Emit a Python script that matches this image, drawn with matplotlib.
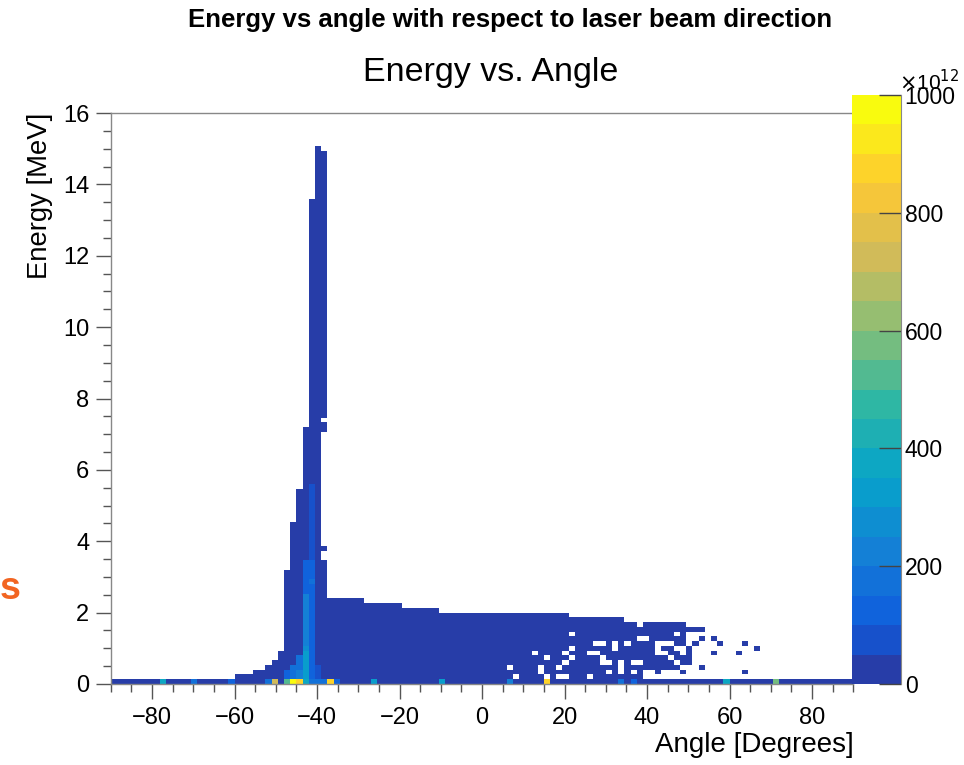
import numpy as np
import matplotlib
matplotlib.use('Agg')
import matplotlib.pyplot as plt
from matplotlib.colors import ListedColormap, BoundaryNorm
from matplotlib.ticker import MultipleLocator

plt.rcParams['font.family'] = ['Liberation Sans', 'DejaVu Sans']

# 2D histogram binning (120 x 120)
angle_range = (-90, 90)
energy_range = (0, 16)
n_angle = 120
n_energy = 120

# filled energy bins (counted from the bottom) in every angle bin
column_tops = ([1] * 20
               + [2, 2, 2, 3, 3, 4, 5, 7, 24, 34, 41, 54, 102, 113, 112]
               + [18] * 6 + [17] * 6 + [16] * 6 + [15] * 21
               + [14] * 9 + [13] * 10 + [12] * 3
               + [1] * 24)

# empty stretches inside a column: (angle bin, first energy bin, last energy bin)
empty_runs = [(34, 26, 27), (34, 29, 52), (34, 55, 55)]

# single empty cells (angle bin, energy bin)
holes = [(64, 3), (65, 1), (68, 6), (69, 2), (69, 3), (70, 1), (70, 5),
         (72, 1), (72, 3), (73, 1), (73, 4), (73, 6), (74, 5), (74, 7),
         (74, 10), (77, 1), (77, 6), (78, 6), (78, 8), (79, 8), (79, 4),
         (79, 5), (80, 2), (80, 4), (81, 7), (81, 8), (82, 2), (82, 3),
         (82, 4), (83, 8), (84, 2), (84, 4), (85, 4), (85, 9), (86, 9),
         (85, 12), (88, 6), (88, 7), (88, 8), (89, 8), (90, 8), (89, 6),
         (86, 1), (87, 1), (88, 1), (89, 1), (90, 1), (91, 1), (92, 1),
         (86, 2), (87, 2), (89, 2), (90, 2), (91, 2), (92, 3), (91, 4),
         (93, 1), (93, 2), (93, 3), (93, 8), (93, 9), (93, 10),
         (94, 1), (94, 2), (94, 3), (94, 4), (94, 5), (94, 6), (94, 7), (94, 9), (94, 10),
         (95, 1), (95, 2), (95, 4), (95, 5), (95, 6), (95, 7), (95, 8), (95, 10),
         (92, 6), (92, 7), (91, 7), (90, 5), (91, 10)]

# isolated filled cells outside the main body
extra_cells = [(97, 9), (98, 8), (97, 6), (102, 8), (104, 7), (101, 6), (102, 2)]

# cells above the lowest colour band: (angle bin, energy bin, value x1e12)
hot_cells = [(8, 0, 350), (13, 0, 180), (19, 0, 130), (25, 0, 160), (26, 0, 720),
             (28, 0, 520), (29, 0, 980), (30, 0, 870), (31, 0, 380), (32, 0, 170),
             (33, 0, 170), (34, 0, 150), (35, 0, 860), (36, 0, 140), (42, 0, 300),
             (53, 0, 330), (64, 0, 230), (70, 0, 880), (82, 0, 150), (84, 0, 130),
             (99, 0, 360), (107, 0, 560),
             (28, 1, 120), (28, 2, 120), (29, 1, 150), (29, 2, 150), (29, 3, 150),
             (30, 1, 200), (30, 2, 200), (30, 3, 180), (30, 4, 180), (30, 5, 160),
             (31, 1, 320), (31, 2, 320), (31, 3, 320), (31, 4, 300), (31, 5, 300),
             (31, 6, 300), (31, 7, 280), (32, 1, 140), (32, 2, 140), (32, 3, 140),
             (32, 4, 140), (32, 5, 140), (32, 6, 140), (32, 7, 140), (33, 1, 90),
             (33, 2, 90), (33, 3, 90),
             (31, 8, 240), (31, 9, 240), (31, 10, 240), (31, 11, 240), (31, 12, 240),
             (31, 13, 240), (31, 14, 240), (31, 15, 240), (31, 16, 240), (31, 17, 240),
             (31, 18, 240), (32, 8, 110), (32, 9, 110), (32, 10, 110), (32, 11, 110),
             (32, 12, 110), (32, 13, 110), (32, 14, 110), (32, 15, 110), (32, 16, 110),
             (32, 17, 110), (32, 18, 110),
             (31, 19, 120), (31, 20, 120), (31, 21, 120), (31, 22, 120), (31, 23, 120),
             (31, 24, 120), (31, 25, 120), (32, 19, 120), (32, 20, 120), (32, 21, 180),
             (32, 22, 120), (32, 23, 120), (32, 24, 120), (32, 25, 120),
             (32, 26, 75), (32, 27, 75), (32, 28, 75), (32, 29, 75), (32, 30, 75),
             (32, 31, 75), (32, 32, 75), (32, 33, 75), (32, 34, 75), (32, 35, 75),
             (32, 36, 75), (32, 37, 75), (32, 38, 75), (32, 39, 75), (32, 40, 75),
             (32, 41, 75)]

fill_value = 10

# ROOT kBird palette
bird_stops = [0.0, 0.125, 0.25, 0.375, 0.5, 0.625, 0.75, 0.875, 1.0]
bird_red = [0.2082, 0.0592, 0.0780, 0.0232, 0.1802, 0.5301, 0.8186, 0.9956, 0.9764]
bird_green = [0.1664, 0.3599, 0.5041, 0.6419, 0.7178, 0.7492, 0.7328, 0.7862, 0.9832]
bird_blue = [0.5293, 0.8684, 0.8385, 0.7914, 0.6425, 0.4662, 0.3499, 0.1968, 0.0539]
n_contours = 20
z_max = 1000


def bird_colors():
    t = np.linspace(0, 1, 255)
    full = np.column_stack([np.interp(t, bird_stops, bird_red),
                            np.interp(t, bird_stops, bird_green),
                            np.interp(t, bird_stops, bird_blue)])
    idx = [min(254, int((j + 0.99) * 255 / n_contours)) for j in range(n_contours)]
    return ListedColormap(full[idx])


def build_hist():
    z = np.zeros((n_energy, n_angle))
    for c, top in enumerate(column_tops):
        z[:top, c] = fill_value
    for c, lo, hi in empty_runs:
        z[lo:hi + 1, c] = 0
    for c, r in holes:
        z[r, c] = 0
    for c, r in extra_cells:
        z[r, c] = fill_value
    for c, r, v in hot_cells:
        z[r, c] = v
    return np.ma.masked_equal(z, 0)


def main():
    fig = plt.figure(figsize=(9.64, 7.65), dpi=100)
    W, H = 964, 765
    ax = fig.add_axes((110.75 / W, 81 / H, 742.5 / W, 571 / H))
    cax = fig.add_axes((852 / W, 81 / H, 48.5 / W, 589 / H))

    x_edges = np.linspace(angle_range[0], angle_range[1], n_angle + 1)
    y_edges = np.linspace(energy_range[0], energy_range[1], n_energy + 1)
    cmap = bird_colors()
    norm = BoundaryNorm(np.linspace(0, z_max, n_contours + 1), cmap.N)
    mesh = ax.pcolormesh(x_edges, y_edges, build_hist(), cmap=cmap, norm=norm,
                         shading='flat', edgecolors='none', antialiased=False)

    ax.set_xlim(*angle_range)
    ax.set_ylim(*energy_range)
    ax.xaxis.set_major_locator(MultipleLocator(20))
    ax.xaxis.set_minor_locator(MultipleLocator(5))
    ax.yaxis.set_major_locator(MultipleLocator(2))
    ax.yaxis.set_minor_locator(MultipleLocator(0.5))
    ax.tick_params(which='major', direction='out', length=10.5, width=1,
                   color='#555555', labelsize=17, pad=5)
    ax.tick_params(which='minor', direction='out', length=5.5, width=1, color='#555555')
    ax.tick_params(axis='x', which='major', pad=6)
    for side in ['left', 'bottom', 'top']:
        ax.spines[side].set_color('#888888')
        ax.spines[side].set_linewidth(1)
    ax.spines['right'].set_visible(False)
    ax.set_xlabel('Angle [Degrees]', fontsize=20, loc='right', labelpad=2)
    ax.set_ylabel('Energy [MeV]', fontsize=19.8, loc='top', labelpad=7)

    cb = fig.colorbar(mesh, cax=cax, ticks=np.arange(0, 1001, 200))
    cb.outline.set_visible(False)
    cax.tick_params(direction='in', length=16, width=1, color='#444444',
                    labelsize=16.5, pad=3)
    cax.spines['right'].set_visible(True)
    cax.spines['right'].set_color('#888888')
    cax.minorticks_off()
    fig.text(899 / W, 1 - 82 / H, r'$\times$10$^{12}$', fontsize=15,
             ha='left', va='center')

    fig.text(510 / W, 1 - 20 / H, 'Energy vs angle with respect to laser beam direction',
             fontsize=18.5, fontweight='bold', ha='center', va='center')
    fig.text(491 / W, 1 - 73 / H, 'Energy vs. Angle', fontsize=24.5,
             ha='center', va='center')
    fig.text(0, 1 - 599 / H, 's', fontsize=27, fontweight='bold',
             color='#f26522', ha='left', va='baseline')

    fig.savefig('out.png', dpi=100)


if __name__ == '__main__':
    main()
